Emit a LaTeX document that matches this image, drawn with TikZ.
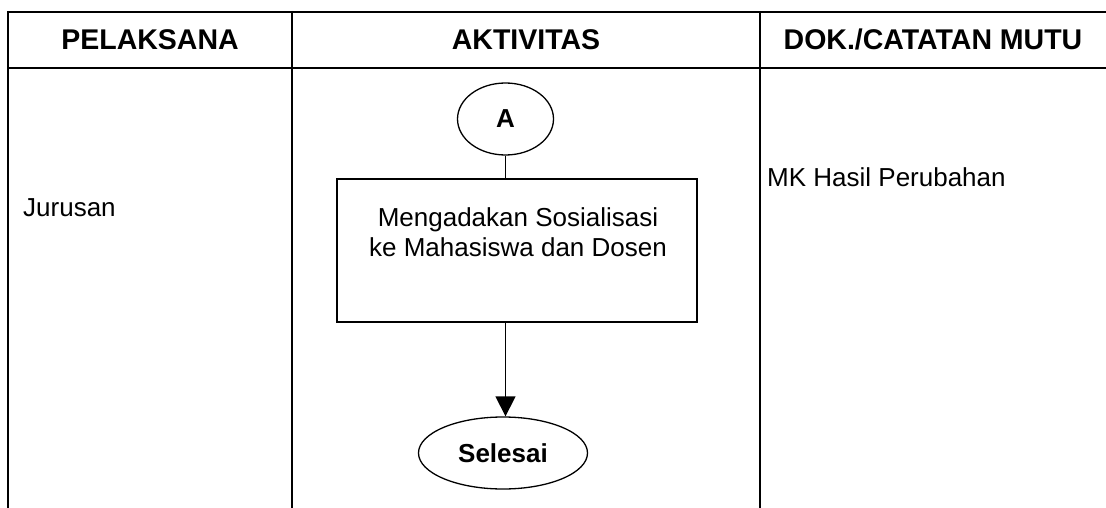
\documentclass[tikz,border=0pt]{standalone}
\usepackage{fontspec}
\setmainfont{Liberation Sans}
\usetikzlibrary{arrows.meta,shapes.geometric}

\begin{document}
\begin{tikzpicture}[x=1pt,y=-1pt,
	garis/.style={line width=2pt},
	judul/.style={anchor=base,inner sep=0pt,font=\fontsize{28.5}{32}\selectfont\bfseries},
	isi/.style={anchor=base west,inner sep=0pt,font=\fontsize{26}{30}\selectfont},
	bulat/.style={draw,ellipse,line width=1.3pt,minimum height=72pt,inner sep=0pt,font=\fontsize{26}{30}\selectfont\bfseries},
	kotak/.style={draw,line width=1.3pt,minimum width=360pt,minimum height=143pt},
	panah/.style={line width=1.3pt,-{Triangle[width=20pt,length=20pt]}}]
			\useasboundingbox (0,0) rectangle (1106,508);
			% 绘制表格
			\draw[garis] (8,12) -- (1106,12);
			\draw[garis] (8,68) -- (1106,68);
			\foreach \x in {8,292,760}
			\draw[garis] (\x,11) -- (\x,508);
			% 表头
			\node[judul] (pelaksana) at (150,50) {PELAKSANA};
			\node[judul] (aktivitas) at (526,50) {AKTIVITAS};
			\node[judul] (dokumen) at (933,50) {DOK./CATATAN MUTU};
			% 左右两栏文字
			\node[isi] (jurusan) at (23,216) {Jurusan};
			\node[isi] (mk) at (767,186) {MK Hasil Perubahan};
			% 流程图
			\node[bulat,minimum width=96pt] (a) at (505.5,119) {A};
			\node[kotak] (sosialisasi) at (517,250.5) {};
			\node[align=center,inner sep=0pt,font=\fontsize{26}{30}\selectfont] (teks) at (518,232.5) {Mengadakan Sosialisasi\\ke Mahasiswa dan Dosen};
			\node[bulat,minimum width=169pt] (selesai) at (503,453) {Selesai};
			\draw[line width=1.3pt] (a.south) -- (a.south |- sosialisasi.north);
			\draw[panah] (sosialisasi.south -| a.south) -- (selesai.north -| a.south);
		\end{tikzpicture}
\end{document}
